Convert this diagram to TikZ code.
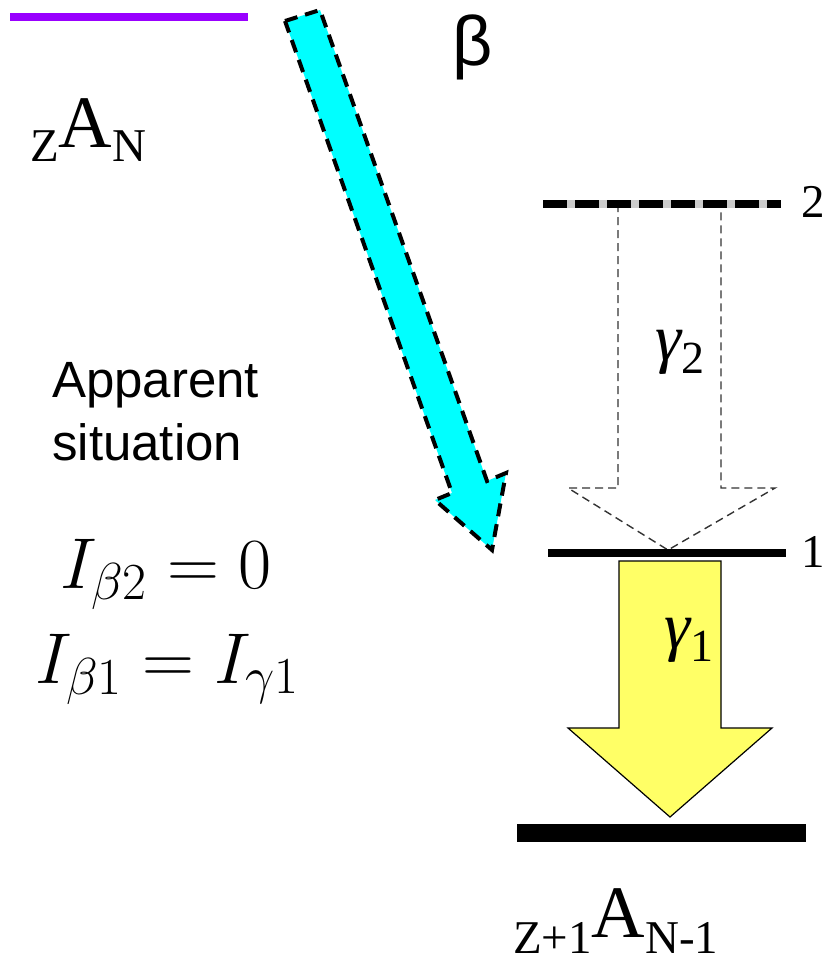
\documentclass[tikz,border=0pt]{standalone}
\usepackage{fix-cm}
\usepackage{fontspec}
\setmainfont{Liberation Serif}
\setsansfont{Liberation Sans}
\usepackage{tikz}
\usetikzlibrary{positioning}
\definecolor{parentviolet}{RGB}{153,0,255}
\definecolor{betacyan}{RGB}{0,255,255}
\definecolor{gammayellow}{RGB}{255,255,102}
\DeclareMathSizes{72}{72}{52}{40}

\begin{document}
\begin{tikzpicture}[
  level/.style={line width=8pt},
  betaarrow/.style={fill=betacyan,draw=black,line width=4pt,dash pattern=on 13pt off 8pt},
  ghostarrow/.style={draw=black!80,line width=1.4pt,dash pattern=on 8pt off 5pt},
  gammaarrow/.style={fill=gammayellow,draw=black,line width=1.2pt},
  lbl/.style={anchor=base west,inner sep=0pt}
]
\begin{scope}[x=1pt,y=-1pt]
  \useasboundingbox (0,0) rectangle (827,966);
  \draw[level,parentviolet] (10,17) -- (248,17);
  \node[lbl,font=\fontsize{47}{47}\selectfont] (parent) at (30,161) {Z\raisebox{14pt}{\fontsize{74}{74}\selectfont A}N};
  \draw[betaarrow] (285,21) -- (320,10) -- (487,481) -- (506,473) -- (492,550) -- (435,500) -- (452,493) -- cycle;
  \node[lbl,font=\sffamily\fontsize{70}{70}\selectfont] (beta) at (452,66) {β};
  \draw[ghostarrow] (618,204) -- (618,488) -- (568,488) -- (668,550) -- (775,488) -- (721,488) -- (721,204) -- cycle;
  \draw[line width=7.5pt,black!20] (543,204) -- (781,204);
  \draw[line width=7.5pt,dash pattern=on 24pt off 8pt] (543,204) -- (781,204);
  \draw[level] (548,553) -- (786,553);
  \draw[gammaarrow] (619,561) -- (721,561) -- (721,728) -- (772,728) -- (670,817) -- (568,728) -- (619,728) -- cycle;
  \draw[line width=18pt] (517,833) -- (806,833);
  \foreach \lev/\y in {2/217,1/567} {\node[lbl,font=\fontsize{47}{47}\selectfont] (lab\lev) at (801,\y) {\lev};}
  \node[lbl] (gammatwo) at (655,360) {\fontsize{66}{66}\selectfont\itshape γ\raisebox{-13pt}{\upshape\fontsize{46}{46}\selectfont 2}};
  \node[lbl] (gammaone) at (664,648) {\fontsize{66}{66}\selectfont\itshape γ\raisebox{-13pt}{\upshape\fontsize{46}{46}\selectfont 1}};
  \node[lbl,font=\fontsize{47}{47}\selectfont] (daughter) at (513,953) {Z+1\raisebox{16pt}{\fontsize{74}{74}\selectfont A}N-1};
  \node[lbl,font=\sffamily\fontsize{51}{51}\selectfont] (apparent) at (52,397) {Apparent};
  \node[lbl,font=\sffamily\fontsize{51}{51}\selectfont] (situation) at (52,460) {situation};
  \node[anchor=base,inner sep=0pt,font=\fontsize{72}{72}\selectfont] (eqtwo) at (166,588) {$I_{\beta2}=0$};
  \node[anchor=base,inner sep=0pt,font=\fontsize{72}{72}\selectfont] (eqone) at (167,683) {$I_{\beta1}=I_{\gamma1}$};
\end{scope}
\end{tikzpicture}
\end{document}
